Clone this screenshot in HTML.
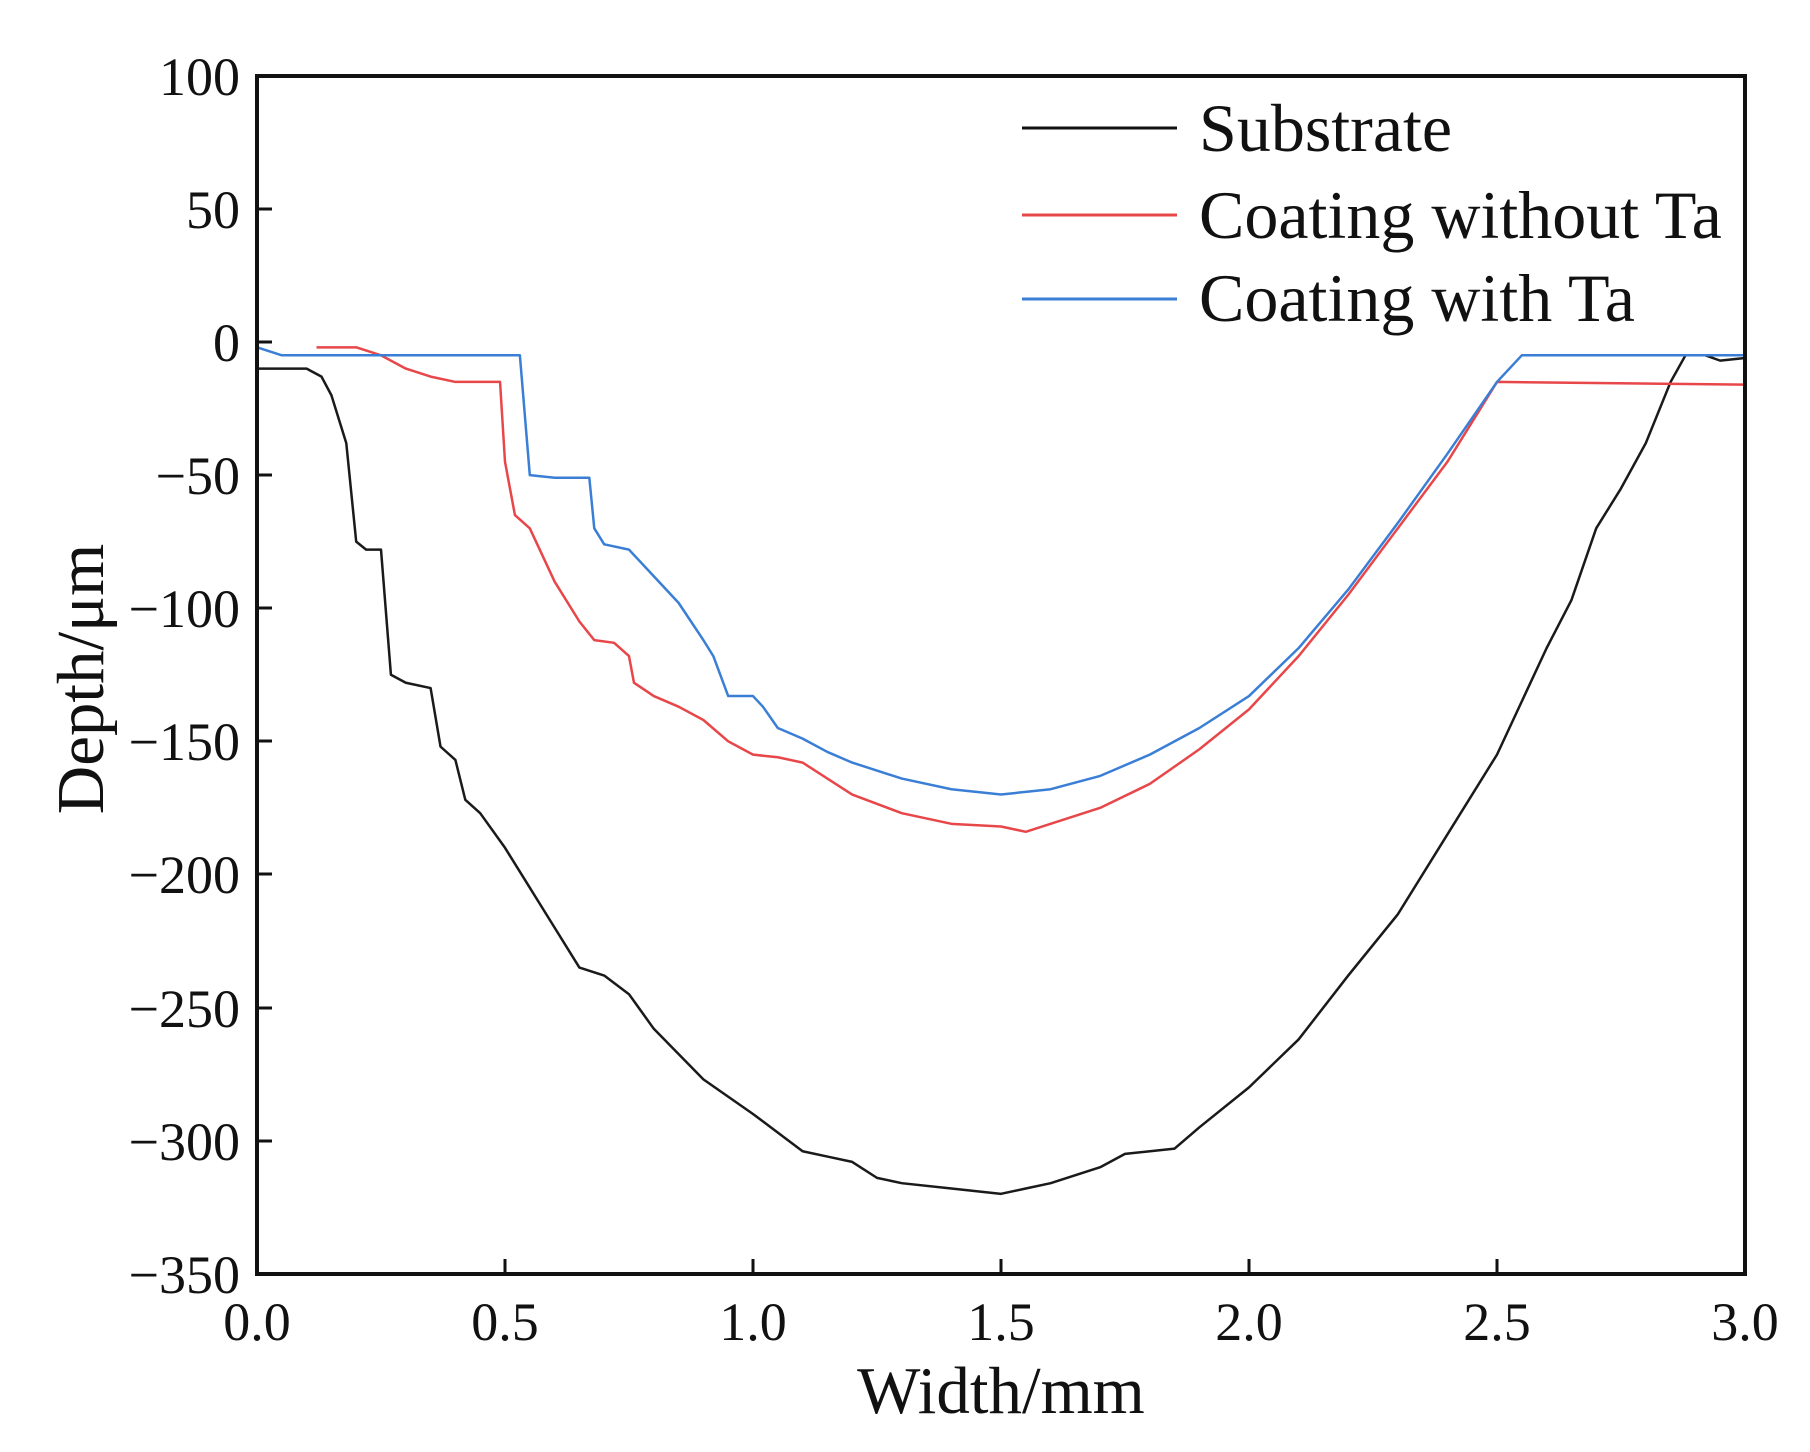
<!DOCTYPE html>
<html><head><meta charset="utf-8"><style>
html,body{margin:0;padding:0;background:#fff}
svg{display:block}
text{font-family:"Liberation Serif",serif;fill:#111}
</style></head><body>
<svg width="1810" height="1452" viewBox="0 0 1810 1452" xmlns="http://www.w3.org/2000/svg">
<g transform="translate(257,342) scale(496,-2.662)" fill="none" stroke-linejoin="round">
<polyline vector-effect="non-scaling-stroke" stroke="#1a1a1a" stroke-width="2.5" points="0,-10 0.1,-10 0.13,-13 0.15,-20 0.18,-38 0.2,-75 0.22,-78 0.25,-78 0.27,-125 0.3,-128 0.35,-130 0.37,-152 0.4,-157 0.42,-172 0.45,-177 0.5,-190 0.55,-205 0.6,-220 0.65,-235 0.7,-238 0.75,-245 0.8,-258 0.9,-277 1.0,-290 1.1,-304 1.15,-306 1.2,-308 1.25,-314 1.3,-316 1.4,-318 1.5,-320 1.55,-318 1.6,-316 1.7,-310 1.75,-305 1.85,-303 1.9,-295 2.0,-280 2.1,-262 2.2,-238 2.3,-215 2.4,-185 2.5,-155 2.55,-135 2.6,-115 2.65,-97 2.7,-70 2.75,-55 2.8,-38 2.85,-15 2.88,-5 2.92,-5 2.95,-7 3.0,-6"/>
<polyline vector-effect="non-scaling-stroke" stroke="#e8474a" stroke-width="2.5" points="0.12,-2 0.2,-2 0.25,-5 0.3,-10 0.35,-13 0.4,-15 0.49,-15 0.5,-45 0.52,-65 0.55,-70 0.6,-90 0.65,-105 0.68,-112 0.72,-113 0.75,-118 0.76,-128 0.8,-133 0.85,-137 0.9,-142 0.95,-150 1.0,-155 1.05,-156 1.1,-158 1.2,-170 1.3,-177 1.4,-181 1.5,-182 1.55,-184 1.6,-181 1.7,-175 1.8,-166 1.9,-153 2.0,-138 2.1,-118 2.2,-95 2.3,-70 2.4,-45 2.5,-15 3.0,-16"/>
<polyline vector-effect="non-scaling-stroke" stroke="#3a7fd5" stroke-width="2.5" points="0,-2 0.05,-5 0.53,-5 0.55,-50 0.6,-51 0.67,-51 0.68,-70 0.7,-76 0.75,-78 0.8,-88 0.85,-98 0.9,-112 0.92,-118 0.95,-133 1.0,-133 1.02,-137 1.05,-145 1.1,-149 1.15,-154 1.2,-158 1.3,-164 1.4,-168 1.5,-170 1.6,-168 1.7,-163 1.8,-155 1.9,-145 2.0,-133 2.1,-115 2.2,-93 2.3,-68 2.4,-42 2.5,-15 2.55,-5 3.0,-5"/>
</g>
<rect x="257" y="76" width="1488" height="1198" fill="none" stroke="#111" stroke-width="4"/>
<g stroke="#111" stroke-width="3">
<line x1="505" y1="1274" x2="505" y2="1259"/><line x1="753" y1="1274" x2="753" y2="1259"/><line x1="1001" y1="1274" x2="1001" y2="1259"/><line x1="1249" y1="1274" x2="1249" y2="1259"/><line x1="1497" y1="1274" x2="1497" y2="1259"/>
<line x1="257" y1="209" x2="272" y2="209"/><line x1="257" y1="342" x2="272" y2="342"/><line x1="257" y1="475" x2="272" y2="475"/><line x1="257" y1="608" x2="272" y2="608"/><line x1="257" y1="741" x2="272" y2="741"/><line x1="257" y1="874" x2="272" y2="874"/><line x1="257" y1="1008" x2="272" y2="1008"/><line x1="257" y1="1141" x2="272" y2="1141"/>
</g>
<g font-size="54" text-anchor="end">
<text x="240" y="95">100</text>
<text x="240" y="228">50</text>
<text x="240" y="361">0</text>
<text x="240" y="494">−50</text>
<text x="240" y="627">−100</text>
<text x="240" y="760">−150</text>
<text x="240" y="893">−200</text>
<text x="240" y="1027">−250</text>
<text x="240" y="1160">−300</text>
<text x="240" y="1293">−350</text>
</g>
<g font-size="54" text-anchor="middle">
<text x="257" y="1340">0.0</text>
<text x="505" y="1340">0.5</text>
<text x="753" y="1340">1.0</text>
<text x="1001" y="1340">1.5</text>
<text x="1249" y="1340">2.0</text>
<text x="1497" y="1340">2.5</text>
<text x="1745" y="1340">3.0</text>
</g>
<text font-size="67" text-anchor="middle" x="1001" y="1413">Width/mm</text>
<text font-size="67" text-anchor="middle" transform="translate(103,679) rotate(-90)">Depth/μm</text>
<g stroke-width="3">
<line x1="1022" y1="128" x2="1177" y2="128" stroke="#111"/>
<line x1="1022" y1="215" x2="1177" y2="215" stroke="#e8474a"/>
<line x1="1022" y1="299" x2="1177" y2="299" stroke="#3a7fd5"/>
</g>
<g font-size="68">
<text x="1199" y="151">Substrate</text>
<text x="1199" y="238">Coating without Ta</text>
<text x="1199" y="321">Coating with Ta</text>
</g>
</svg>
</body></html>
